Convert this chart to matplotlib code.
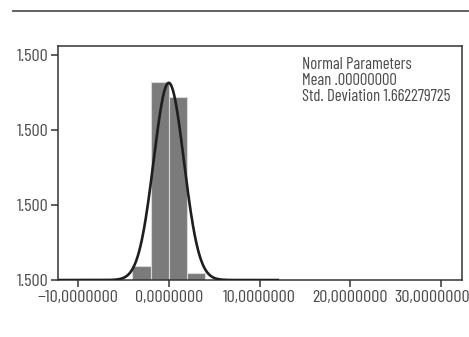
import numpy as np
import matplotlib.pyplot as plt
from matplotlib.transforms import ScaledTranslation

# histogram data
bin_edges = [-4, -2, 0, 2, 4]
counts = [0.19, 2.64, 2.44, 0.10]
mean = 0.0
std = 1.662279725

x_ticks = [-10, 0, 10, 20, 30]
x_tick_labels = ['\u221210,0000000', '0,0000000', '10,0000000', '20,0000000', '30,0000000']
y_ticks = [0, 1, 2, 3]
y_tick_labels = ['1.500', '1.500', '1.500', '1.500']
info_lines = ['Normal Parameters', 'Mean .00000000', 'Std. Deviation 1.662279725']

plt.rcParams['font.family'] = ['Barlow Condensed', 'DejaVu Sans']
text_color = '#4a4a4a'

fig = plt.figure(figsize=(4.69, 3.37), dpi=100)
ax = fig.add_axes([0.1237, 0.169, 0.8613, 0.6945])

widths = np.diff(bin_edges)
ax.bar(bin_edges[:-1], counts, width=widths, align='edge',
       color='#7b7b7c', edgecolor='#d8d8d8', linewidth=0.8, zorder=2)

# fitted normal curve, scaled to the histogram area
xs = np.linspace(-12, 12, 600)
area = np.sum(np.array(counts) * widths)
pdf = np.exp(-(xs - mean) ** 2 / (2 * std ** 2)) / (std * np.sqrt(2 * np.pi))
ax.plot(xs, area * pdf * 1.02, color='#1e1e1e', linewidth=1.9, zorder=3)

ax.set_xlim(-12.2, 32.3)
ax.set_ylim(0, 3.12)
ax.set_xticks(x_ticks)
ax.set_xticklabels(x_tick_labels)
ax.set_yticks(y_ticks)
ax.set_yticklabels(y_tick_labels)
ax.tick_params(direction='out', length=5, width=1.1, colors='#333333',
               labelcolor=text_color, labelsize=13, pad=2)

# last x label is nudged left so it stays inside the figure
last = ax.get_xticklabels()[-1]
last.set_transform(last.get_transform() + ScaledTranslation(-0.09, 0, fig.dpi_scale_trans))

for s in ax.spines.values():
    s.set_color('#333333')
    s.set_linewidth(1.1)

ax.text(0.604, 0.955, '\n'.join(info_lines), transform=ax.transAxes,
        ha='left', va='top', fontsize=12, color=text_color, linespacing=1.1)

# separator rule at the top of the figure
fig.add_artist(plt.Line2D([13 / 469, 468 / 469], [1 - 11 / 337, 1 - 11 / 337],
                          color='#555555', linewidth=1.3))

fig.savefig('out.png', dpi=100)
